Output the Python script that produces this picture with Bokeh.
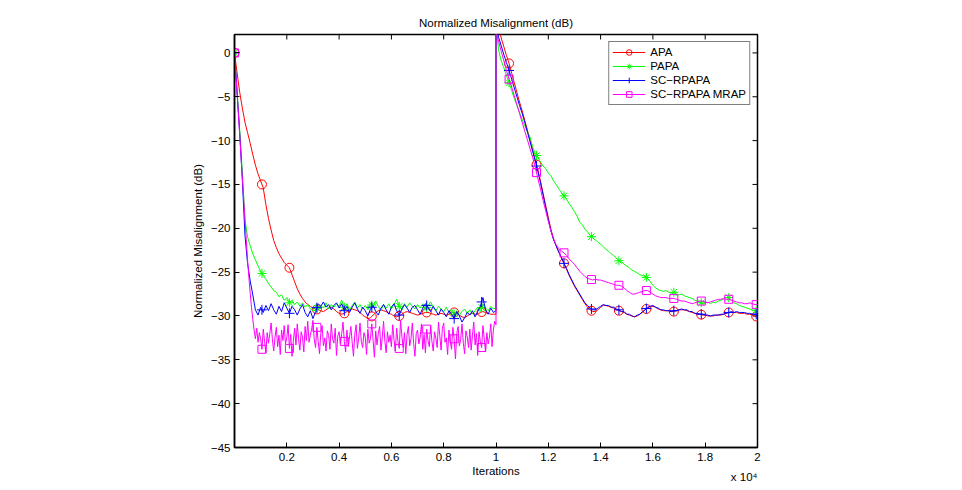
import numpy as np
from bokeh.plotting import figure
from bokeh.models import FixedTicker, Range1d, Title
from bokeh.embed import file_html
from bokeh.resources import INLINE

# ---------------- data ----------------
pre_iterations = list(range(0, 10001, 100))        # 0 .. 10000
post_iterations = list(range(10000, 20001, 100))   # 10000 .. 20000 (echo path change)
fine_pre_iterations = list(range(0, 10001, 50))    # denser sampling for the MRAP noise

apa_pre = [
    0.0, -2.3, -4.5, -6.3, -7.9, -9.1, -10.3, -11.6, -12.8, -13.8,
    -14.6, -15.4, -17.3, -18.9, -20.2, -21.4, -22.2, -22.9, -23.4, -23.9,
    -24.2, -24.5, -25.3, -26.1, -26.9, -27.5, -28.0, -28.4, -28.7, -28.9,
    -29.1, -29.2, -29.3, -29.4, -29.5, -29.3, -29.1, -29.0, -29.2, -29.5,
    -29.7, -29.8, -29.7, -29.5, -29.3, -29.2, -29.3, -29.4, -29.6, -29.9,
    -30.1, -30.3, -30.2, -29.9, -29.6, -29.4, -29.3, -29.4, -29.5, -29.7,
    -29.8, -30.0, -30.1, -30.0, -29.8, -29.6, -29.5, -29.6, -29.7, -29.8,
    -29.9, -29.8, -29.7, -29.6, -29.6, -29.7, -29.8, -29.9, -29.8, -29.7,
    -29.8, -29.9, -29.8, -29.6, -29.6, -29.7, -29.9, -30.1, -30.2, -30.0,
    -29.8, -29.7, -29.8, -29.8, -29.6, -29.5, -29.6, -29.7, -29.8, -29.8,
    -29.8]
apa_post = [
    4.0, 2.8, 1.7, 0.7, -0.3, -1.2, -2.3, -3.4, -4.5, -5.6,
    -6.6, -7.7, -8.8, -9.9, -11.0, -12.2, -13.3, -14.6, -16.0, -17.4,
    -18.8, -20.1, -21.2, -22.0, -22.7, -23.4, -24.0, -24.7, -25.4, -26.0,
    -26.6, -27.1, -27.6, -28.1, -28.6, -29.0, -29.3, -29.5, -29.5, -29.3,
    -29.0, -28.8, -28.8, -28.9, -29.0, -29.1, -29.3, -29.4, -29.5, -29.6,
    -29.8, -29.9, -30.0, -30.1, -30.0, -29.8, -29.6, -29.3, -29.1, -28.9,
    -28.9, -29.0, -29.2, -29.3, -29.4, -29.4, -29.4, -29.5, -29.5, -29.4,
    -29.3, -29.3, -29.3, -29.4, -29.5, -29.6, -29.7, -29.8, -29.8, -29.9,
    -29.9, -30.0, -30.0, -30.0, -29.9, -29.9, -29.9, -29.8, -29.7, -29.6,
    -29.6, -29.6, -29.6, -29.7, -29.7, -29.7, -29.8, -29.8, -29.9, -30.0,
    -30.1]

papa_pre = [
    0.0, -4.3, -8.8, -13.6, -19.0, -21.0, -22.0, -22.9, -23.6, -24.3,
    -24.9, -25.4, -25.8, -26.3, -26.7, -27.1, -27.3, -27.8, -27.6, -28.2,
    -27.9, -28.5, -28.2, -28.7, -28.4, -28.9, -28.5, -29.0, -28.7, -29.2,
    -29.4, -28.9, -29.3, -28.8, -29.1, -28.5, -29.2, -28.7, -29.0, -28.6,
    -28.9, -28.2, -29.0, -28.6, -29.3, -28.8, -28.4, -29.1, -28.7, -29.2,
    -28.8, -29.3, -28.5, -29.0, -28.3, -28.9, -29.4, -28.7, -29.1, -28.6,
    -29.2, -28.7, -28.1, -28.9, -29.3, -28.6, -29.0, -28.5, -28.9, -29.2,
    -28.7, -29.1, -28.6, -29.3, -28.8, -28.4, -29.0, -29.4, -28.9, -29.2,
    -29.5, -29.0, -29.6, -29.2, -29.8, -29.4, -29.9, -29.5, -29.2, -29.7,
    -29.3, -29.8, -29.4, -29.0, -29.5, -28.6, -29.1, -29.4, -28.9, -29.2,
    -29.1]
papa_post = [
    3.0, 0.3, -0.9, -1.7, -2.6, -3.4, -4.3, -5.2, -6.0, -6.8,
    -7.6, -8.3, -9.0, -9.6, -10.7, -11.5, -11.9, -12.4, -12.9, -13.2,
    -13.7, -14.0, -14.6, -15.0, -15.5, -15.9, -16.3, -16.7, -17.2, -17.6,
    -18.1, -18.6, -19.3, -19.6, -20.1, -20.4, -20.8, -21.1, -21.3, -21.6,
    -21.8, -22.1, -22.4, -22.6, -22.9, -23.1, -23.4, -23.7, -23.8, -24.1,
    -24.3, -24.5, -24.8, -24.9, -25.1, -25.3, -25.4, -25.5, -25.7, -26.1,
    -26.5, -26.8, -27.0, -27.1, -27.2, -27.1, -27.3, -27.4, -27.3, -27.5,
    -27.6, -27.5, -27.7, -27.8, -27.9, -28.0, -28.2, -28.3, -28.4, -28.6,
    -28.5, -28.4, -28.6, -28.4, -28.5, -28.3, -28.2, -28.1, -27.9, -27.9,
    -28.2, -28.5, -28.6, -28.8, -28.9, -29.0, -29.1, -29.2, -29.3, -29.4,
    -29.4]

scrpapa_pre = [
    0.0, -4.6, -9.2, -14.5, -20.8, -24.0, -26.0, -27.6, -29.3, -29.9,
    -29.0, -29.6, -28.8, -29.4, -28.6, -29.3, -29.8, -28.9, -29.5, -28.5,
    -29.1, -29.7, -28.9, -29.3, -29.9, -29.2, -28.7, -29.6, -30.1, -29.4,
    -30.3, -29.5, -28.6, -28.9, -28.4, -29.0, -28.7, -29.3, -28.8, -28.5,
    -29.1, -28.6, -29.4, -28.9, -29.6, -29.0, -28.5, -29.2, -29.7, -29.0,
    -29.4, -30.0, -29.2, -28.8, -29.5, -29.9, -29.1, -28.7, -29.3, -29.8,
    -29.0, -28.6, -29.4, -29.9, -29.2, -28.7, -29.1, -29.6, -29.0, -28.8,
    -29.3, -29.8, -29.1, -28.6, -29.0, -29.5, -28.9, -29.4, -29.9, -29.2,
    -29.6, -30.1, -29.4, -29.8, -30.3, -29.5, -30.0, -30.7, -30.2, -29.6,
    -29.9, -29.4, -30.1, -29.5, -28.9, -27.9, -29.3, -29.8, -29.1, -29.6,
    -29.4]
scrpapa_post = [
    2.8, 1.8, 0.8, -0.2, -1.1, -2.0, -3.0, -4.0, -5.0, -6.0,
    -6.9, -7.9, -9.0, -10.1, -11.2, -12.3, -13.5, -14.8, -16.2, -17.6,
    -19.0, -20.3, -21.3, -22.0, -22.7, -23.3, -24.0, -24.6, -25.3, -25.9,
    -26.5, -27.0, -27.5, -28.0, -28.5, -28.8, -29.1, -29.3, -29.3, -29.1,
    -28.9, -28.7, -28.8, -28.8, -29.0, -29.0, -29.2, -29.3, -29.5, -29.5,
    -29.8, -29.8, -30.0, -30.1, -29.9, -29.8, -29.5, -29.3, -29.0, -28.9,
    -28.8, -29.0, -29.1, -29.3, -29.3, -29.4, -29.4, -29.5, -29.4, -29.4,
    -29.3, -29.2, -29.3, -29.3, -29.5, -29.5, -29.7, -29.7, -29.8, -29.8,
    -29.9, -29.9, -30.0, -29.9, -29.9, -29.9, -29.8, -29.8, -29.7, -29.6,
    -29.5, -29.6, -29.5, -29.6, -29.6, -29.6, -29.7, -29.7, -29.8, -29.8,
    -29.8]

# SC-RPAPA MRAP before the change, every 50 iterations
mrap_pre = [
    0.0, -2.3, -4.7, -7.0, -9.4, -11.8, -14.3, -16.6, -19.0, -21.3,
    -23.6, -25.6, -27.4, -29.0, -30.4, -31.6, -32.6, -31.4, -33.0, -31.9,
    -32.6, -33.8, -31.5, -32.9, -34.2, -31.9, -33.1, -32.0, -30.8, -32.7,
    -34.0, -32.4, -31.3, -33.5, -32.2, -34.4, -31.6, -32.8, -31.1, -33.2,
    -32.5, -31.0, -33.7, -32.1, -34.6, -32.9, -31.4, -33.3, -30.9, -32.6,
    -33.9, -31.8, -32.4, -34.1, -31.2, -32.8, -30.6, -33.0, -32.2, -31.5,
    -30.5, -32.7, -33.6, -31.3, -32.9, -34.3, -32.0, -31.1, -33.4, -32.5,
    -34.0, -31.7, -32.2, -33.8, -30.9, -32.6, -33.1, -31.4, -34.5, -32.3,
    -31.8, -33.2, -32.0, -30.7, -32.9, -34.1, -31.6, -33.5, -32.4, -31.2,
    -33.0, -34.6, -32.1, -31.0, -33.7, -32.5, -30.8, -32.9, -33.6, -31.9,
    -32.4, -34.4, -31.5, -33.1, -32.6, -30.9, -32.8, -34.7, -31.7, -33.3,
    -32.0, -31.2, -33.9, -32.5, -30.6, -32.9, -34.2, -31.8, -33.0, -32.2,
    -33.5, -31.0, -32.7, -34.0, -31.4, -32.9, -33.7, -30.5, -32.3, -33.6,
    -31.9, -34.3, -32.1, -31.2, -33.4, -32.6, -30.8, -33.1, -34.6, -32.0,
    -31.6, -33.2, -32.4, -30.9, -33.8, -32.1, -34.2, -31.5, -32.8, -33.5,
    -31.1, -32.9, -34.0, -31.8, -32.5, -33.6, -30.7, -32.2, -33.9, -31.4,
    -30.8, -33.0, -32.5, -34.4, -31.6, -32.9, -33.8, -31.3, -32.6, -34.9,
    -32.0, -31.2, -33.4, -32.7, -30.9, -33.1, -34.3, -31.7, -32.4, -33.6,
    -31.5, -33.9, -32.2, -30.7, -33.3, -32.0, -34.5, -31.8, -32.9, -33.6,
    -31.1, -32.6, -34.1, -31.9, -33.2, -32.4, -30.9, -33.5, -31.6, -30.6,
    -31.0]
mrap_post = [
    2.5, 1.3, 0.2, -0.9, -2.0, -3.0, -3.9, -4.9, -5.9, -6.9,
    -7.9, -8.9, -9.9, -10.9, -11.9, -13.0, -14.3, -15.5, -16.8, -18.0,
    -19.2, -20.3, -21.2, -21.9, -22.3, -22.6, -22.8, -23.1, -23.5, -23.8,
    -24.1, -24.5, -24.9, -25.2, -25.5, -25.7, -25.8, -25.9, -25.8, -25.9,
    -25.9, -26.0, -26.1, -26.2, -26.3, -26.4, -26.5, -26.5, -26.6, -26.8,
    -27.1, -27.3, -27.5, -27.5, -27.4, -27.3, -27.2, -27.1, -27.1, -27.3,
    -27.5, -27.7, -27.8, -27.9, -27.9, -27.9, -28.0, -28.0, -28.0, -28.1,
    -28.2, -28.3, -28.3, -28.4, -28.5, -28.6, -28.5, -28.4, -28.3, -28.3,
    -28.4, -28.5, -28.4, -28.3, -28.2, -28.1, -28.1, -28.0, -28.1, -28.1,
    -28.2, -28.3, -28.4, -28.5, -28.5, -28.6, -28.6, -28.5, -28.6, -28.7,
    -28.7]

series_names = ["APA", "PAPA", "SC\u2212RPAPA", "SC\u2212RPAPA MRAP"]
series_colors = ["#ff0000", "#00ff00", "#0000ff", "#ff00ff"]
series_markers = ["circle", "asterisk", "cross", "square"]
marker_sizes = [9, 9, 10, 8]

marker_iterations = list(range(0, 20000, 1050))

xtick_values = [2000, 4000, 6000, 8000, 10000, 12000, 14000, 16000, 18000, 20000]
xtick_labels = ["0.2", "0.4", "0.6", "0.8", "1", "1.2", "1.4", "1.6", "1.8", "2"]
ytick_values = [-45, -40, -35, -30, -25, -20, -15, -10, -5, 0]
ytick_labels = ["\u221245", "\u221240", "\u221235", "\u221230", "\u221225",
                "\u221220", "\u221215", "\u221210", "\u22125", "0"]

X_MIN, X_MAX = 0, 20000
Y_MIN, Y_MAX = -45, 2.1

# ---------------- figure ----------------
FONT = "Liberation Sans"
FS = "11.5px"
p = figure(width=962, height=490, output_backend="svg", toolbar_location=None,
           x_range=Range1d(X_MIN, X_MAX), y_range=Range1d(Y_MIN, Y_MAX),
           min_border_left=234, min_border_right=205, min_border_top=34,
           min_border_bottom=43, title="Normalized Misalignment (dB)",
           background_fill_color="white", border_fill_color="white")
p.title.align = "center"
p.title.text_font = FONT
p.title.text_font_size = FS
p.title.text_font_style = "normal"
p.title.text_color = "black"
p.title.standoff = 12
p.xgrid.visible = False
p.ygrid.visible = False
p.outline_line_color = "black"
p.outline_line_width = 1.5

for ax, ticks, labels in ((p.xaxis[0], xtick_values, xtick_labels),
                          (p.yaxis[0], ytick_values, ytick_labels)):
    ax.ticker = FixedTicker(ticks=ticks)
    ax.major_label_overrides = dict(zip(ticks, labels))
    ax.axis_line_color = "black"
    ax.axis_line_width = 1.5
    ax.major_tick_in = 5
    ax.major_tick_out = 0
    ax.major_tick_line_color = "black"
    ax.major_tick_line_width = 1
    ax.minor_tick_line_color = None
    ax.major_label_text_font = FONT
    ax.major_label_text_font_size = FS
    ax.major_label_text_color = "black"
    ax.axis_label_text_font = FONT
    ax.axis_label_text_font_size = FS
    ax.axis_label_text_font_style = "normal"
    ax.axis_label_text_color = "black"

p.xaxis[0].axis_label = "Iterations"
p.xaxis[0].major_label_standoff = 5
p.xaxis[0].axis_label_standoff = 1
p.yaxis[0].axis_label = "Normalized Misalignment (dB)"
p.yaxis[0].major_label_standoff = 4
p.yaxis[0].axis_label_standoff = 4

# inward ticks on the top and right edges of the box (half of each dash is clipped away)
p.scatter(xtick_values, [Y_MAX] * len(xtick_values), marker="dash", angle=np.pi / 2,
          size=10, line_color="black", line_width=1)
p.scatter([X_MAX] * len(ytick_values), ytick_values, marker="dash",
          size=10, line_color="black", line_width=1)

# ---------------- series ----------------
series_x = [pre_iterations + post_iterations, pre_iterations + post_iterations,
            pre_iterations + post_iterations, fine_pre_iterations + post_iterations]
series_values = [apa_pre + apa_post, papa_pre + papa_post,
                 scrpapa_pre + scrpapa_post, mrap_pre + mrap_post]

mx = np.array(marker_iterations, dtype=float)
for name, xs, vals, col, mk, ms in zip(series_names, series_x, series_values,
                                       series_colors, series_markers, marker_sizes):
    xs = np.array(xs, dtype=float)
    vals = np.array(vals, dtype=float)
    p.line(xs, vals, line_color=col, line_width=1, legend_label=name)
    my = np.interp(mx, xs, vals)
    p.scatter(mx, my, marker=mk, size=ms, line_color=col, fill_color=None,
              line_width=1, legend_label=name)

leg = p.legend[0]
leg.location = "top_right"
leg.margin = 7
leg.padding = 3
leg.spacing = 0
leg.glyph_width = 33
leg.glyph_height = 14
leg.label_height = 14
leg.label_standoff = 5
leg.label_text_font = FONT
leg.label_text_font_size = FS
leg.label_text_color = "black"
leg.border_line_color = "black"
leg.border_line_width = 1.2
leg.background_fill_color = "white"
leg.background_fill_alpha = 1

# x 10^4 multiplier under the right end of the x axis
mult = Title(text="x 10\u2074", align="right", vertical_align="top",
             text_font=FONT, text_font_size=FS, text_font_style="normal",
             text_color="black", standoff=-17)
p.add_layout(mult, "below")

open("out.html", "w").write(file_html(p, INLINE))
